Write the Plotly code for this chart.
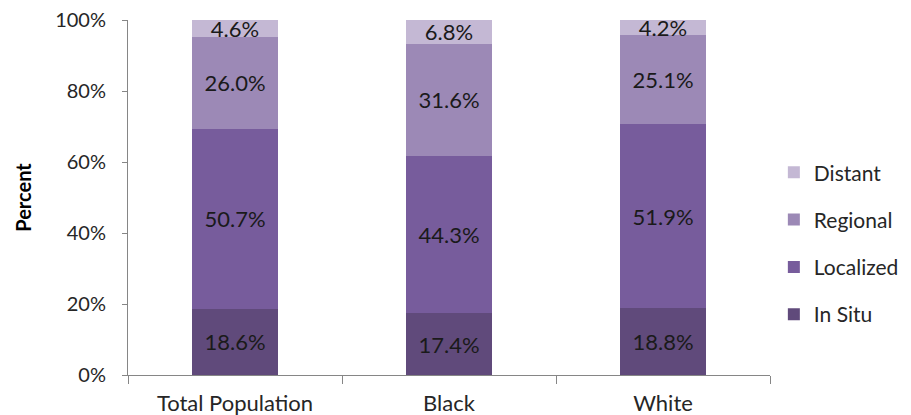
import plotly.graph_objects as go

categories = ["Total Population", "Black", "White"]
in_situ = [18.6, 17.4, 18.8]
localized = [50.7, 44.3, 51.9]
regional = [26.0, 31.6, 25.1]
distant = [4.6, 6.8, 4.2]
series_names = ["In Situ", "Localized", "Regional", "Distant"]
series_values = [in_situ, localized, regional, distant]
colors = ["#604A7B", "#775C9C", "#9C89B6", "#C4B8D4"]
y_ticks = [0, 20, 40, 60, 80, 100]
y_tick_labels = ["0%", "20%", "40%", "60%", "80%", "100%"]

FONT = "Lato, 'Open Sans', sans-serif"
TXT = "#262626"

fig = go.Figure()
n = len(series_names)
for i, (name, vals, col) in enumerate(zip(series_names, series_values, colors)):
    fig.add_trace(go.Bar(
        x=categories, y=vals, name=name, legendgroup=name, legendrank=n - i,
        marker=dict(color=col, line=dict(width=0)),
        text=[f"{v:.1f}%" for v in vals],
        textposition="inside", insidetextanchor="middle",
        textfont=dict(color="#1a1a1a", size=22, family=FONT),
        width=0.4, hoverinfo="skip",
    ))

fig.update_layout(
    barmode="stack",
    width=911, height=415,
    margin=dict(l=128, r=141, t=20, b=40, autoexpand=False),
    plot_bgcolor="white", paper_bgcolor="white",
    uniformtext=dict(minsize=22, mode="show"),
    font=dict(family=FONT, color=TXT, size=20),
    legend=dict(
        traceorder="grouped", x=1.006, xanchor="left", y=0.37, yanchor="middle",
        font=dict(size=21, family=FONT, color=TXT),
        tracegroupgap=17, itemwidth=30,
    ),
    showlegend=True,
    xaxis=dict(
        type="category", range=[-0.5, 2.5], tickson="boundaries",
        ticks="outside", ticklen=8, tickcolor="#868686",
        showline=True, linecolor="#868686", linewidth=1,
        showgrid=False, ticklabelstandoff=9,
        tickfont=dict(size=22, family=FONT, color=TXT),
    ),
    yaxis=dict(
        range=[0, 100], tickvals=y_ticks, ticktext=y_tick_labels,
        ticks="outside", ticklen=5, tickcolor="#868686",
        showline=True, linecolor="#868686", linewidth=1,
        showgrid=False, zeroline=False, ticklabelstandoff=12,
        tickfont=dict(size=20, family=FONT, color=TXT),
        title=dict(text="<b>Percent</b>", font=dict(size=20, family=FONT, color="#000"), standoff=18),
    ),
)

fig.write_html("out.html", config={"displayModeBar": False},
               post_script="document.body.style.margin='0';")
